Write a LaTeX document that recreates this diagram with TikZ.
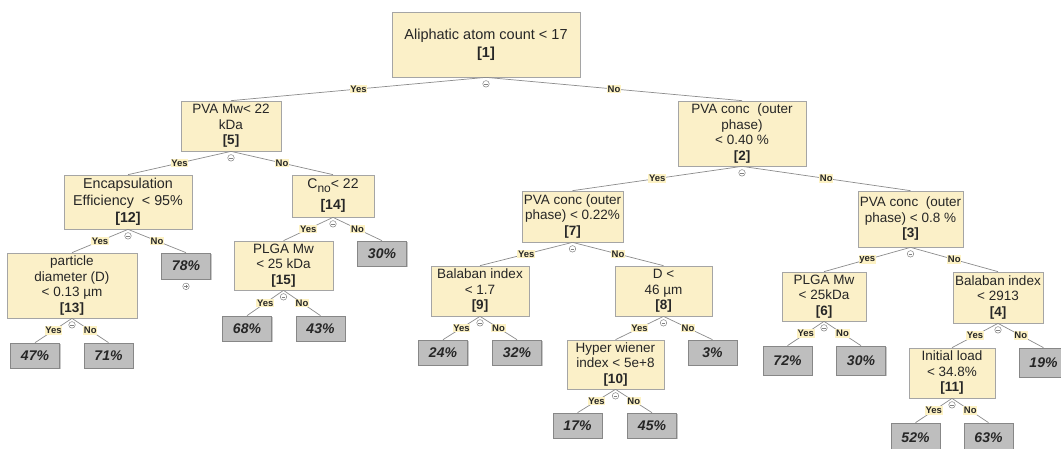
\documentclass[tikz,border=0pt]{standalone}
\usepackage{fontspec}
\setmainfont{Liberation Sans}
\usetikzlibrary{shadows,calc}
\definecolor{nodeyellow}{RGB}{251,240,200}
\definecolor{labelyellow}{RGB}{253,242,196}
\definecolor{bordergray}{RGB}{165,165,165}
\definecolor{leafgray}{RGB}{190,190,190}
\definecolor{leafborder}{RGB}{135,135,135}
\definecolor{edgegray}{RGB}{140,140,140}
\definecolor{circgray}{RGB}{130,130,130}
\definecolor{textdark}{RGB}{38,38,38}
\tikzset{
  dnode/.style={draw=bordergray, fill=nodeyellow, line width=0.7pt, inner sep=1pt,
    align=center, text=textdark, font=\fontsize{13.5}{15.5}\selectfont,
    drop shadow={shadow xshift=1pt, shadow yshift=-1pt, opacity=0.35, fill=black!60}},
  leaf/.style={draw=leafborder, fill=leafgray, line width=0.7pt, inner sep=1pt,
    minimum width=49, minimum height=26, text=textdark,
    font=\fontsize{14}{16}\selectfont\bfseries\itshape,
    drop shadow={shadow xshift=1pt, shadow yshift=-1pt, opacity=0.35, fill=black!60}},
  tallleaf/.style={leaf, minimum height=29},
  elabel/.style={fill=labelyellow, inner sep=0.8pt, text=textdark,
    font=\fontsize{9.5}{10}\selectfont\bfseries},
  edge/.style={draw=edgegray, line width=0.7pt},
  minusc/.style={circle, draw=circgray, line width=0.5pt, minimum size=6.5pt, inner sep=0pt,
    path picture={\draw[circgray, line width=0.5pt]
      ([xshift=-1.8pt]path picture bounding box.center) -- ([xshift=1.8pt]path picture bounding box.center);}},
  plusc/.style={minusc,
    path picture={\draw[circgray, line width=0.5pt]
      ([xshift=-1.8pt]path picture bounding box.center) -- ([xshift=1.8pt]path picture bounding box.center)
      ([yshift=-1.8pt]path picture bounding box.center) -- ([yshift=1.8pt]path picture bounding box.center);}}
}
\begin{document}
\begin{tikzpicture}[x=1pt,y=-1pt]
\clip (0,0) rectangle (1061,448);
\fill[white] (0,0) rectangle (1061,448);
% decision nodes
\node[dnode, minimum width=188, minimum height=65, font=\fontsize{14.5}{18}\selectfont] (n1) at (486,44.5) {Aliphatic atom count < 17\\\textbf{[1]}};
\node[dnode, minimum width=100, minimum height=50] (n5) at (231,126) {PVA Mw< 22\\kDa\\\textbf{[5]}};
\node[dnode, minimum width=128, minimum height=65] (n2) at (742,133.5) {PVA conc~ (outer\\phase)\\< 0.40 \%\\\textbf{[2]}};
\node[dnode, minimum width=128, minimum height=54, font=\fontsize{14.3}{17}\selectfont] (n12) at (128,202) {Encapsulation\\Efficiency~ < 95\%\\\textbf{[12]}};
\node[dnode, minimum width=82, minimum height=42, font=\fontsize{14}{21}\selectfont] (n14) at (333,196) {C\raisebox{-3.5pt}{\fontsize{12}{12}\selectfont no}< 22\\\textbf{[14]}};
\node[dnode, minimum width=101, minimum height=51] (n7) at (572.5,216.5) {PVA conc (outer\\phase) < 0.22\%\\\textbf{[7]}};
\node[dnode, minimum width=105, minimum height=56] (n3) at (910.5,219) {PVA conc~ (outer\\phase) < 0.8 \%\\\textbf{[3]}};
\node[dnode, minimum width=130, minimum height=65] (n13) at (72,285.5) {particle\\diameter (D)\\< 0.13 µm\\\textbf{[13]}};
\node[dnode, minimum width=99, minimum height=49] (n15) at (283.5,265.5) {PLGA Mw\\< 25 kDa\\\textbf{[15]}};
\node[dnode, minimum width=98, minimum height=50] (n9) at (480,291) {Balaban index\\< 1.7\\\textbf{[9]}};
\node[dnode, minimum width=97, minimum height=50] (n8) at (663.5,291) {D <\\46 µm\\\textbf{[8]}};
\node[dnode, minimum width=84, minimum height=49] (n6) at (824,296.5) {PLGA Mw\\< 25kDa\\\textbf{[6]}};
\node[dnode, minimum width=90, minimum height=51] (n4) at (998,297.5) {Balaban index\\< 2913\\\textbf{[4]}};
\node[dnode, minimum width=97, minimum height=49] (n10) at (615.5,364.5) {Hyper wiener\\index < 5e+8\\\textbf{[10]}};
\node[dnode, minimum width=86, minimum height=50] (n11) at (952,373) {Initial load\\< 34.8\%\\\textbf{[11]}};
% leaves
\node[leaf] (l78) at (186,266) {78\%};
\node[leaf, minimum height=25] (l30a) at (382,253.5) {30\%};
\node[leaf, minimum height=25] (l47) at (35,355.5) {47\%};
\node[leaf, minimum height=25] (l71) at (108.5,355.5) {71\%};
\node[leaf, minimum height=25] (l68) at (247,328.5) {68\%};
\node[leaf, minimum height=25] (l43) at (320.5,328.5) {43\%};
\node[leaf, minimum height=25] (l24) at (443,352.5) {24\%};
\node[leaf, minimum height=25] (l32) at (517,352.5) {32\%};
\node[leaf, minimum height=25] (l3) at (712.5,352.5) {3\%};
\node[leaf, minimum height=25] (l17) at (577.5,425.5) {17\%};
\node[leaf, minimum height=25] (l45) at (652,425.5) {45\%};
\node[tallleaf] (l72) at (787.5,360.5) {72\%};
\node[tallleaf] (l30b) at (861,360.5) {30\%};
\node[tallleaf] (l19) at (1043.5,362.5) {19\%};
\node[tallleaf] (l52) at (915.5,437.5) {52\%};
\node[tallleaf] (l63) at (988.5,437.5) {63\%};
% edges
\draw[edge] (n1.south) -- node[elabel]{Yes} (n5.north);
\draw[edge] (n1.south) -- node[elabel]{No} (n2.north);
\draw[edge] (n5.south) -- node[elabel]{Yes} (n12.north);
\draw[edge] (n5.south) -- node[elabel]{No} (n14.north);
\draw[edge] (n2.south) -- node[elabel]{Yes} (n7.north);
\draw[edge] (n2.south) -- node[elabel]{No} (n3.north);
\draw[edge] (n12.south) -- node[elabel]{Yes} (n13.north);
\draw[edge] (n12.south) -- node[elabel]{No} (l78.north);
\draw[edge] (n14.south) -- node[elabel]{Yes} (n15.north);
\draw[edge] (n14.south) -- node[elabel]{No} (l30a.north);
\draw[edge] (n13.south) -- node[elabel]{Yes} (l47.north);
\draw[edge] (n13.south) -- node[elabel]{No} (l71.north);
\draw[edge] (n15.south) -- node[elabel]{Yes} (l68.north);
\draw[edge] (n15.south) -- node[elabel]{No} (l43.north);
\draw[edge] (n7.south) -- node[elabel]{Yes} (n9.north);
\draw[edge] (n7.south) -- node[elabel]{No} (n8.north);
\draw[edge] (n9.south) -- node[elabel]{Yes} (l24.north);
\draw[edge] (n9.south) -- node[elabel]{No} (l32.north);
\draw[edge] (n8.south) -- node[elabel]{Yes} (n10.north);
\draw[edge] (n8.south) -- node[elabel]{No} (l3.north);
\draw[edge] (n10.south) -- node[elabel]{Yes} (l17.north);
\draw[edge] (n10.south) -- node[elabel]{No} (l45.north);
\draw[edge] (n3.south) -- node[elabel]{yes} (n6.north);
\draw[edge] (n3.south) -- node[elabel]{No} (n4.north);
\draw[edge] (n6.south) -- node[elabel]{Yes} (l72.north);
\draw[edge] (n6.south) -- node[elabel]{No} (l30b.north);
\draw[edge] (n4.south) -- node[elabel]{Yes} (n11.north);
\draw[edge] (n4.south) -- node[elabel]{No} (l19.north);
\draw[edge] (n11.south) -- node[elabel]{Yes} (l52.north);
\draw[edge] (n11.south) -- node[elabel]{No} (l63.north);
% collapse markers
\foreach \n in {n1,n5,n2,n12,n14,n7,n3,n13,n15,n9,n8,n6,n4,n10,n11}
  \node[minusc] (c\n) at ($(\n.south)+(0,6.5)$) {};
\node[plusc] (cl78) at ($(l78.south)+(0,7)$) {};
\end{tikzpicture}
\end{document}
